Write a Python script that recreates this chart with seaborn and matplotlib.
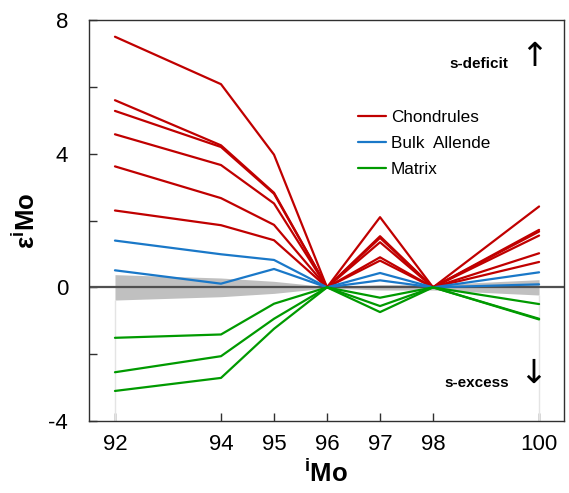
import numpy as np
import pandas as pd
import matplotlib
matplotlib.use("Agg")
import matplotlib.pyplot as plt
import seaborn as sns
from matplotlib.lines import Line2D

# Mo isotope masses (x axis)
mass = [92, 94, 95, 96, 97, 98, 100]

# epsilon iMo values, one list per sample
chondrule_1 = [7.50, 6.08, 3.97, 0, 2.10, 0, 2.42]
chondrule_2 = [5.60, 4.25, 2.83, 0, 1.53, 0, 1.72]
chondrule_3 = [5.28, 4.20, 2.80, 0, 1.48, 0, 1.67]
chondrule_4 = [4.58, 3.66, 2.51, 0, 1.35, 0, 1.55]
chondrule_5 = [3.62, 2.67, 1.87, 0, 0.90, 0, 1.02]
chondrule_6 = [2.30, 1.86, 1.41, 0, 0.80, 0, 0.76]
bulk_1 = [1.40, 0.99, 0.82, 0, 0.43, 0, 0.45]
bulk_2 = [0.51, 0.11, 0.55, 0, 0.21, 0, 0.09]
matrix_1 = [-1.51, -1.41, -0.49, 0, -0.31, 0, -0.50]
matrix_2 = [-2.54, -2.06, -0.94, 0, -0.56, 0, -0.94]
matrix_3 = [-3.10, -2.71, -1.24, 0, -0.74, 0, -0.96]

# terrestrial standard uncertainty (half-width of grey band)
band_half = [0.38, 0.28, 0.18, 0.02, 0.08, 0.08, 0.23]

groups = {
    "Chondrules": [chondrule_1, chondrule_2, chondrule_3, chondrule_4, chondrule_5, chondrule_6],
    "Bulk  Allende": [bulk_1, bulk_2],
    "Matrix": [matrix_1, matrix_2, matrix_3],
}
colors = {"Chondrules": "#c00000", "Bulk  Allende": "#1a78c8", "Matrix": "#009a00"}

rows = []
n = 0
for grp, series in groups.items():
    for s in series:
        n += 1
        for m, v in zip(mass, s):
            rows.append({"mass": m, "eps": v, "group": grp, "sample": n})
df = pd.DataFrame(rows)

sns.set_style("ticks")
plt.rcParams["font.family"] = ["Liberation Sans", "DejaVu Sans"]
plt.rcParams["mathtext.fontset"] = "custom"
plt.rcParams["mathtext.rm"] = "Liberation Sans"
plt.rcParams["mathtext.bf"] = "Liberation Sans:bold"
plt.rcParams["axes.unicode_minus"] = False
plt.rcParams["text.color"] = "black"
plt.rcParams["xtick.labelcolor"] = "black"
plt.rcParams["ytick.labelcolor"] = "black"

fig = plt.figure(figsize=(5.69, 4.93), dpi=100)
ax = fig.add_axes([0.1564, 0.146, 0.8348, 0.8134])

lo = np.array(band_half) * -1
hi = np.array(band_half)
ax.fill_between(mass, lo, hi, color="#c0c0c0", lw=0, zorder=1)
ax.vlines([92, 100], -4, [lo[0], lo[-1]], color="#e4e4e4", lw=1, zorder=1)
ax.axhline(0, color="#505050", lw=1.6, zorder=2)

sns.lineplot(data=df, x="mass", y="eps", hue="group", units="sample",
             estimator=None, palette=colors, lw=1.6, legend=False, ax=ax,
             zorder=3)

ax.set_xlim(91.51, 100.47)
ax.set_ylim(-4, 8)
ax.set_xticks(mass)
ax.set_yticks([-4, 0, 4, 8])
ax.set_yticks([-2, 2, 6], minor=True)
ax.tick_params(axis="both", which="both", direction="in", length=6,
               width=1, color="#303030", labelsize=16)
ax.tick_params(axis="x", pad=9)
ax.tick_params(axis="y", pad=15)
for sp in ax.spines.values():
    sp.set_color("#303030")
    sp.set_linewidth(1)

ax.set_xlabel(r"$\mathbf{^{i}Mo}$", fontsize=18.5, labelpad=4, color="black")
ax.set_ylabel(r"$\mathbf{\varepsilon^{i}Mo}$", fontsize=18.5, labelpad=6, color="black")

handles = [Line2D([], [], color=colors[g], lw=1.6) for g in groups]
ax.legend(handles, list(groups), loc="upper left", bbox_to_anchor=(0.566, 0.775),
          frameon=False, fontsize=12.3, handlelength=1.65, handletextpad=0.28,
          labelspacing=0.65, borderpad=0, borderaxespad=0)

ax.text(0.821, 0.89, "s-deficit", transform=ax.transAxes, fontsize=11,
        fontweight="bold", ha="center", va="center")
ax.text(0.937, 0.91, "\u2191", transform=ax.transAxes, fontsize=24,
        family="DejaVu Sans", ha="center", va="center")
ax.text(0.817, 0.095, "s-excess", transform=ax.transAxes, fontsize=11,
        fontweight="bold", ha="center", va="center")
ax.text(0.935, 0.12, "\u2193", transform=ax.transAxes, fontsize=24,
        family="DejaVu Sans", ha="center", va="center")

fig.savefig("out.png", dpi=100)
